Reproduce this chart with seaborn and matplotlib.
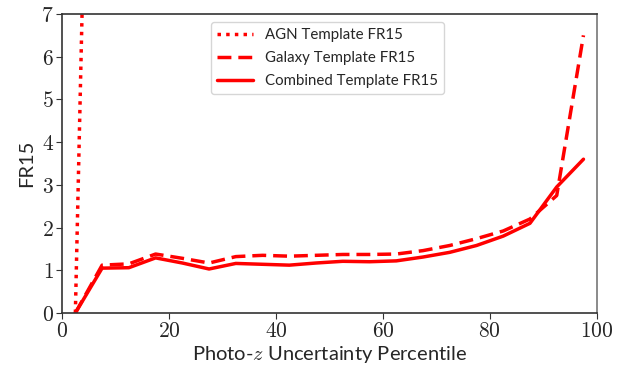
import matplotlib
matplotlib.use("Agg")
import matplotlib.pyplot as plt
import matplotlib.ticker as mticker
import numpy as np
import pandas as pd
import seaborn as sns

# Percentile bin centres
percentile = [2.5, 7.5, 12.5, 17.5, 22.5, 27.5, 32.5, 37.5, 42.5, 47.5,
              52.5, 57.5, 62.5, 67.5, 72.5, 77.5, 82.5, 87.5, 92.5, 97.5]

# FR15 per template
agn_pct = [2.5, 7.5]
agn_fr15 = [0.0, 28.0]
galaxy_fr15 = [0.0, 1.12, 1.15, 1.38, 1.28, 1.17, 1.32, 1.35, 1.33, 1.35,
               1.37, 1.37, 1.38, 1.46, 1.58, 1.74, 1.92, 2.2, 2.75, 6.5]
combined_fr15 = [0.0, 1.05, 1.06, 1.29, 1.17, 1.03, 1.16, 1.14, 1.12, 1.17,
                 1.21, 1.20, 1.22, 1.31, 1.42, 1.58, 1.8, 2.1, 2.95, 3.6]

labels = ["AGN Template FR15", "Galaxy Template FR15", "Combined Template FR15"]

df = pd.concat([
    pd.DataFrame({"pct": agn_pct, "fr15": agn_fr15, "template": labels[0]}),
    pd.DataFrame({"pct": percentile, "fr15": galaxy_fr15, "template": labels[1]}),
    pd.DataFrame({"pct": percentile, "fr15": combined_fr15, "template": labels[2]}),
])

sns.set_style("ticks")
plt.rcParams["mathtext.fontset"] = "cm"
plt.rcParams["font.family"] = ["Lato", "DejaVu Sans"]

fig = plt.figure(figsize=(6.23, 3.68), dpi=100)
ax = fig.add_axes([0.0995, 0.1495, 0.8585, 0.8125])

sns.lineplot(data=df, x="pct", y="fr15", hue="template", style="template",
             palette=["red", "red", "red"],
             dashes={labels[0]: (1, 1.5), labels[1]: (4, 2), labels[2]: ""},
             linewidth=2.5, ax=ax, legend=True)

ax.set_xlim(0, 100)
ax.set_ylim(0, 7)
ax.xaxis.set_major_locator(mticker.MultipleLocator(20))
ax.yaxis.set_major_locator(mticker.MultipleLocator(1))
ax.xaxis.set_major_formatter(mticker.FuncFormatter(lambda v, p: f"${int(v)}$"))
ax.yaxis.set_major_formatter(mticker.FuncFormatter(lambda v, p: f"${int(v)}$"))
ax.tick_params(labelsize=15.5, length=4, color="#333333", pad=2)

for s in ax.spines.values():
    s.set_color("#333333")
    s.set_linewidth(1.2)
ax.spines["right"].set_color("#777777")

ax.set_xlabel("Photo-$z$ Uncertainty Percentile", fontsize=14.5, labelpad=2)
ax.set_ylabel("FR15", fontsize=14.5, labelpad=4)

leg = ax.legend(loc="upper center", fontsize=10.8, handlelength=2.4,
                handletextpad=0.8, labelspacing=0.6, frameon=True,
                borderaxespad=0.55, bbox_to_anchor=(0.497, 1.0))
leg.get_frame().set_edgecolor("#cccccc")

fig.savefig("out.png", dpi=100)
